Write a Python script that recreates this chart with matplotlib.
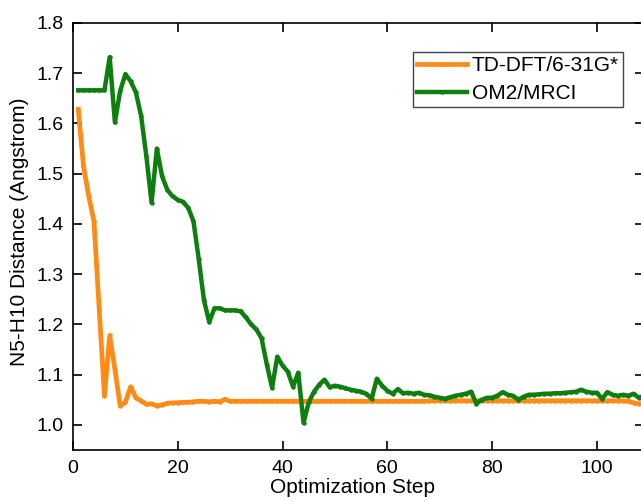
import matplotlib
matplotlib.use('Agg')
import matplotlib.pyplot as plt

plt.rcParams['font.family'] = ['Liberation Sans', 'DejaVu Sans']

# optimization steps 1..109
steps = list(range(1, 110))

# TD-DFT/6-31G* N5-H10 distance
tddft = [1.628, 1.515, 1.455, 1.405, 1.230, 1.058, 1.178, 1.110, 1.038, 1.045,
         1.076, 1.054, 1.048, 1.041, 1.042, 1.038, 1.040, 1.043, 1.044, 1.044,
         1.045, 1.045, 1.046, 1.047, 1.047, 1.046, 1.047, 1.046, 1.051, 1.047,
         1.047, 1.047, 1.047, 1.047, 1.047, 1.047, 1.047, 1.047, 1.047, 1.047,
         1.047, 1.047, 1.047, 1.047, 1.047, 1.047, 1.047, 1.047, 1.047, 1.047,
         1.047, 1.047, 1.047, 1.047, 1.047, 1.047, 1.047, 1.047, 1.047, 1.047,
         1.047, 1.047, 1.047, 1.047, 1.047, 1.047, 1.047, 1.048, 1.048, 1.048,
         1.048, 1.048, 1.048, 1.048, 1.048, 1.048, 1.048, 1.048, 1.048, 1.048,
         1.048, 1.048, 1.048, 1.048, 1.048, 1.048, 1.048, 1.048, 1.048, 1.048,
         1.048, 1.048, 1.048, 1.048, 1.048, 1.048, 1.048, 1.048, 1.048, 1.048,
         1.048, 1.048, 1.048, 1.048, 1.048, 1.047, 1.044, 1.042, 1.042]

# OM2/MRCI N5-H10 distance
om2 = [1.666, 1.666, 1.666, 1.666, 1.666, 1.666, 1.732, 1.602, 1.665, 1.698,
       1.684, 1.662, 1.615, 1.535, 1.442, 1.550, 1.495, 1.468, 1.455, 1.448,
       1.444, 1.432, 1.405, 1.330, 1.248, 1.205, 1.232, 1.232, 1.228, 1.228,
       1.228, 1.226, 1.214, 1.200, 1.190, 1.172, 1.120, 1.074, 1.136, 1.118,
       1.106, 1.076, 1.104, 1.004, 1.045, 1.066, 1.080, 1.090, 1.075, 1.078,
       1.076, 1.073, 1.070, 1.068, 1.066, 1.062, 1.052, 1.092, 1.078, 1.068,
       1.062, 1.071, 1.063, 1.064, 1.062, 1.064, 1.060, 1.059, 1.056, 1.054,
       1.052, 1.055, 1.058, 1.060, 1.062, 1.066, 1.042, 1.050, 1.054, 1.054,
       1.058, 1.065, 1.060, 1.058, 1.050, 1.056, 1.060, 1.060, 1.061, 1.062,
       1.062, 1.063, 1.063, 1.064, 1.065, 1.066, 1.070, 1.066, 1.064, 1.064,
       1.052, 1.065, 1.060, 1.058, 1.060, 1.058, 1.062, 1.054, 1.058]

orange = '#FF8A14'
green = '#0E7F0E'

fig = plt.figure(figsize=(6.41, 5.01), dpi=100)
ax = fig.add_axes([0.1139, 0.1018, 0.8908, 0.8523])

ax.plot(steps, tddft, color=orange, lw=3.4, marker='o', ms=2.2,
        label='TD-DFT/6-31G*')
ax.plot(steps, om2, color=green, lw=3.2, marker='o', ms=2.2,
        label='OM2/MRCI')

ax.set_xlim(0, 109)
ax.set_ylim(0.95, 1.8)
ax.set_xticks([0, 20, 40, 60, 80, 100])
ax.set_yticks([1.0, 1.1, 1.2, 1.3, 1.4, 1.5, 1.6, 1.7, 1.8])
ax.set_yticklabels(['1.0', '1.1', '1.2', '1.3', '1.4', '1.5', '1.6', '1.7', '1.8'])
ax.tick_params(direction='in', length=6.5, width=1.2, labelsize=14,
               top=True, right=True, pad=7)
for s in ax.spines.values():
    s.set_linewidth(1.2)

ax.set_xlabel('Optimization Step', fontsize=15)
ax.set_ylabel('N5-H10 Distance (Angstrom)', fontsize=15)
ax.xaxis.set_label_coords(0.489, -0.066)
ax.yaxis.set_label_coords(-0.077, 0.51)

leg = ax.legend(loc='upper right', bbox_to_anchor=(0.963, 0.932),
                borderaxespad=0, fontsize=15, fancybox=False, framealpha=1,
                handlelength=2.4, handletextpad=0.2, labelspacing=0.42,
                borderpad=0.2)
leg.get_frame().set_edgecolor('#444444')
leg.get_frame().set_linewidth(1.0)

fig.savefig('out.png', dpi=100)
